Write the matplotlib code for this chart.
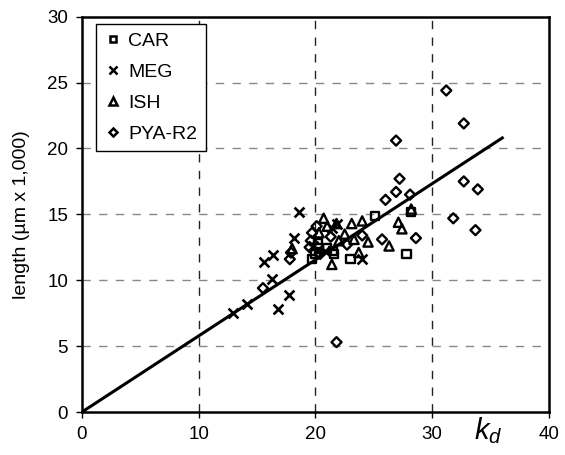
import numpy as np
import matplotlib
matplotlib.use("Agg")
import matplotlib.pyplot as plt
from matplotlib.lines import Line2D

plt.rcParams['font.family'] = ['Liberation Sans', 'DejaVu Sans']
plt.rcParams['mathtext.fontset'] = 'custom'
plt.rcParams['mathtext.it'] = 'Liberation Sans:italic'

# CAR (squares)
car_x = [19.7, 20.0, 20.3, 21.5, 21.6, 23.0, 25.1, 27.8, 28.2, 20.2, 21.0]
car_y = [11.6, 12.0, 12.4, 12.2, 12.0, 11.6, 14.9, 12.0, 15.2, 12.8, 12.4]

# MEG (crosses)
meg_x = [12.9, 14.1, 15.6, 16.4, 16.3, 16.8, 17.7, 18.2, 18.6, 21.8, 24.0,
         20.2, 19.8, 20.8, 21.4]
meg_y = [7.5, 8.2, 11.4, 11.9, 10.1, 7.8, 8.9, 13.2, 15.2, 14.3, 11.6,
         12.3, 12.6, 12.2, 14.0]

# ISH (triangles)
ish_x = [18.0, 20.7, 21.4, 21.8, 23.1, 24.0, 24.5, 26.3, 23.7, 23.3, 22.5,
         27.1, 27.4, 20.3, 21.0, 22.0, 28.2]
ish_y = [12.4, 14.7, 11.2, 14.3, 14.3, 14.5, 12.9, 12.6, 12.1, 13.1, 13.5,
         14.4, 13.9, 13.6, 14.1, 13.0, 15.4]

# PYA-R2 (diamonds)
pya_x = [15.5, 17.8, 17.9, 19.6, 19.7, 20.1, 19.5, 20.4, 21.8, 24.0, 25.7,
         26.0, 26.9, 27.2, 26.9, 28.1, 28.6, 31.2, 32.7, 32.7, 33.9, 31.8,
         33.7, 22.7, 21.3]
pya_y = [9.4, 11.6, 12.1, 13.0, 13.6, 14.1, 12.5, 12.0, 5.3, 13.4, 13.1,
         16.1, 16.7, 17.7, 20.6, 16.5, 13.2, 24.4, 21.9, 17.5, 16.9, 14.7,
         13.8, 12.7, 13.3]

# fitted line
fit_x = [0, 36]
fit_y = [0, 20.8]

fig = plt.figure(figsize=(5.65, 4.55), dpi=100)
ax = fig.add_axes([0.1451, 0.0945, 0.8266, 0.8688])

for xv in [10, 20, 30]:
    ax.axvline(xv, color='#222222', lw=1.0, ls=(0, (6, 6)), zorder=1)
for yv in [5, 10, 15, 20, 25]:
    ax.axhline(yv, color='#888888', lw=1.0, ls=(0, (6, 6)), zorder=1)

ax.plot(fit_x, fit_y, color='black', lw=2.2, zorder=2)

kw = dict(facecolor='none', edgecolor='black', linewidths=1.7, zorder=3)
ax.scatter(car_x, car_y, marker='s', s=36, **kw)
ax.scatter(meg_x, meg_y, marker='x', s=50, color='black', linewidths=1.9, zorder=3)
ax.scatter(ish_x, ish_y, marker='^', s=44, **kw)
ax.scatter(pya_x, pya_y, marker='D', s=26, **kw)

ax.set_xlim(0, 40)
ax.set_ylim(0, 30)
ax.set_xticks([0, 10, 20, 30, 40])
ax.set_yticks([0, 5, 10, 15, 20, 25, 30])
ax.tick_params(direction='out', length=4, width=1, labelsize=13.5, pad=6)
for sp in ax.spines.values():
    sp.set_linewidth(1.8)
    sp.set_zorder(4)

ax.set_ylabel('length (µm x 1,000)', fontsize=14, labelpad=12)
ax.text(34.8, -0.008, r'$k_{d}$', transform=ax.get_xaxis_transform(),
        fontsize=21, ha='center', va='top')

handles = [
    Line2D([], [], ls='none', marker='s', ms=5, mfc='none', mec='black', mew=1.8, label='CAR'),
    Line2D([], [], ls='none', marker='x', ms=6, color='black', mew=1.8, label='MEG'),
    Line2D([], [], ls='none', marker='^', ms=6, mfc='none', mec='black', mew=1.8, label='ISH'),
    Line2D([], [], ls='none', marker='D', ms=4.5, mfc='none', mec='black', mew=1.8, label='PYA-R2'),
]
leg = ax.legend(handles=handles, loc='upper left', bbox_to_anchor=(0.03, 0.982),
                fontsize=14, frameon=True, fancybox=False, framealpha=1,
                edgecolor='black', handlelength=0.8, handletextpad=0.4,
                labelspacing=0.68, borderpad=0.45, borderaxespad=0)
leg.get_frame().set_linewidth(1.0)

fig.savefig('out.png', dpi=100)
